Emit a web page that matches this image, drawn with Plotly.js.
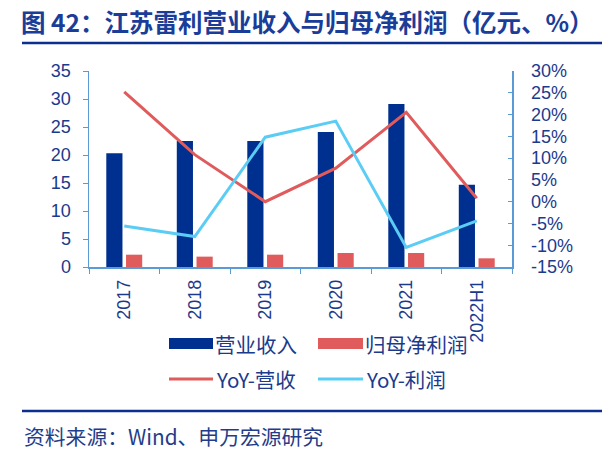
<!DOCTYPE html>
<html><head><meta charset="utf-8">
<script src="https://cdn.plot.ly/plotly-3.0.1.min.js"></script>
<style>html,body{margin:0;padding:0;background:#fff}#chart{width:615px;height:453px}</style>
</head><body><div id="chart"></div>
<script>
const categories = ["2017","2018","2019","2020","2021","2022H1"];
const revenue = [20.3, 22.5, 22.5, 24.1, 29.1, 14.7];
const netProfit = [2.2, 1.85, 2.2, 2.5, 2.5, 1.55];
const yoyRevenue = [25.2, 10.8, 0.0, 7.7, 20.5, 0.8];
const yoyProfit = [-5.6, -8.0, 14.8, 18.5, -10.5, -4.4];
const leftTicks = [0,5,10,15,20,25,30,35];
const rightTicks = [-15,-10,-5,0,5,10,15,20,25,30];
const rightTickText = ["-15%","-10%","-5%","0%","5%","10%","15%","20%","25%","30%"];

const W = 615, H = 453;
const L = 89, R = 512, T = 71, B = 267;
const px = x => (x - L) / (R - L);
const py = y => (B - y) / (B - T);
const navy = "#00308f", red = "#e05b5b", sky = "#5bcdf5", axisC = "#5b9bd5", textC = "#1c3a8c";
const fnt = "Liberation Sans, Arial, sans-serif";
const cjk = "Noto Sans CJK SC, Liberation Sans, sans-serif";

const traces = [
  {type:"bar", x:categories, y:revenue, name:"营业收入", marker:{color:navy}, showlegend:false, hoverinfo:"none"},
  {type:"bar", x:categories, y:netProfit, name:"归母净利润", marker:{color:red}, showlegend:false, hoverinfo:"none"},
  {type:"scatter", mode:"lines", x:categories, y:yoyRevenue, yaxis:"y2", name:"YoY-营收", line:{color:red, width:3}, showlegend:false, hoverinfo:"none"},
  {type:"scatter", mode:"lines", x:categories, y:yoyProfit, yaxis:"y2", name:"YoY-利润", line:{color:sky, width:3}, showlegend:false, hoverinfo:"none"}
];

const shapes = [
  {type:"line", xref:"paper", yref:"paper", x0:px(22), x1:px(602), y0:py(43), y1:py(43), line:{color:"#0a2f8f", width:2.5}},
  {type:"line", xref:"paper", yref:"paper", x0:px(22), x1:px(602), y0:py(411), y1:py(411), line:{color:"#0a2f8f", width:2.5}},
  {type:"rect", xref:"paper", yref:"paper", x0:px(169), x1:px(213), y0:py(349), y1:py(338), fillcolor:navy, line:{width:0}},
  {type:"rect", xref:"paper", yref:"paper", x0:px(318), x1:px(363), y0:py(349), y1:py(338), fillcolor:red, line:{width:0}},
  {type:"line", xref:"paper", yref:"paper", x0:px(169), x1:px(213), y0:py(379), y1:py(379), line:{color:red, width:3}},
  {type:"line", xref:"paper", yref:"paper", x0:px(318), x1:px(363), y0:py(379), y1:py(379), line:{color:sky, width:3}}
];

const ann = (text, x, y, size, color, family) => ({text, xref:"paper", yref:"paper", x:px(x), y:py(y), xanchor:"left", yanchor:"middle", showarrow:false, font:{size, color, family}});
const annotations = [
  ann(traces[0].name, 213, 344, 20.5, textC, cjk),
  ann(traces[1].name, 363, 344, 20.5, textC, cjk),
  ann(traces[2].name, 214, 379, 20.5, textC, cjk),
  ann(traces[3].name, 364, 379, 20.5, textC, cjk),
  ann("资料来源：Wind、申万宏源研究", 22, 436, 20.8, "#1f3d8a", cjk)
];

const layout = {
  width:W, height:H, margin:{l:L, r:W-R, t:T, b:H-B}, paper_bgcolor:"#fff", plot_bgcolor:"#fff",
  title:{text:"图 42：江苏雷利营业收入与归母净利润（亿元、%）", x:21/W, xref:"container", xanchor:"left", y:1-23/H, yref:"container", yanchor:"middle",
    font:{size:24.5, color:"#1a3d99", family:cjk, weight:700}},
  barmode:"group", bargap:0.44, bargroupgap:0.18,
  xaxis:{type:"category", showline:true, linecolor:axisC, linewidth:1.5, ticks:"outside", tickson:"boundaries", ticklen:5, tickcolor:axisC,
    tickangle:-90, tickfont:{size:18, color:textC, family:fnt}, ticklabelstandoff:4, showgrid:false},
  yaxis:{range:[0,35], tickvals:leftTicks, showline:true, linecolor:axisC, linewidth:1.5, ticks:"outside", ticklen:5, tickcolor:axisC,
    tickfont:{size:18, color:textC, family:fnt}, ticklabelstandoff:8, showgrid:false, zeroline:false},
  yaxis2:{range:[-15,30], tickvals:rightTicks, ticktext:rightTickText, overlaying:"y", side:"right", showline:true, linecolor:axisC, linewidth:1.5,
    ticks:"inside", ticklen:4, tickcolor:axisC, tickfont:{size:18, color:textC, family:fnt}, ticklabelstandoff:14, showgrid:false, zeroline:false},
  shapes, annotations, showlegend:false
};
Plotly.newPlot("chart", traces, layout, {staticPlot:true, displayModeBar:false});
</script></body></html>
